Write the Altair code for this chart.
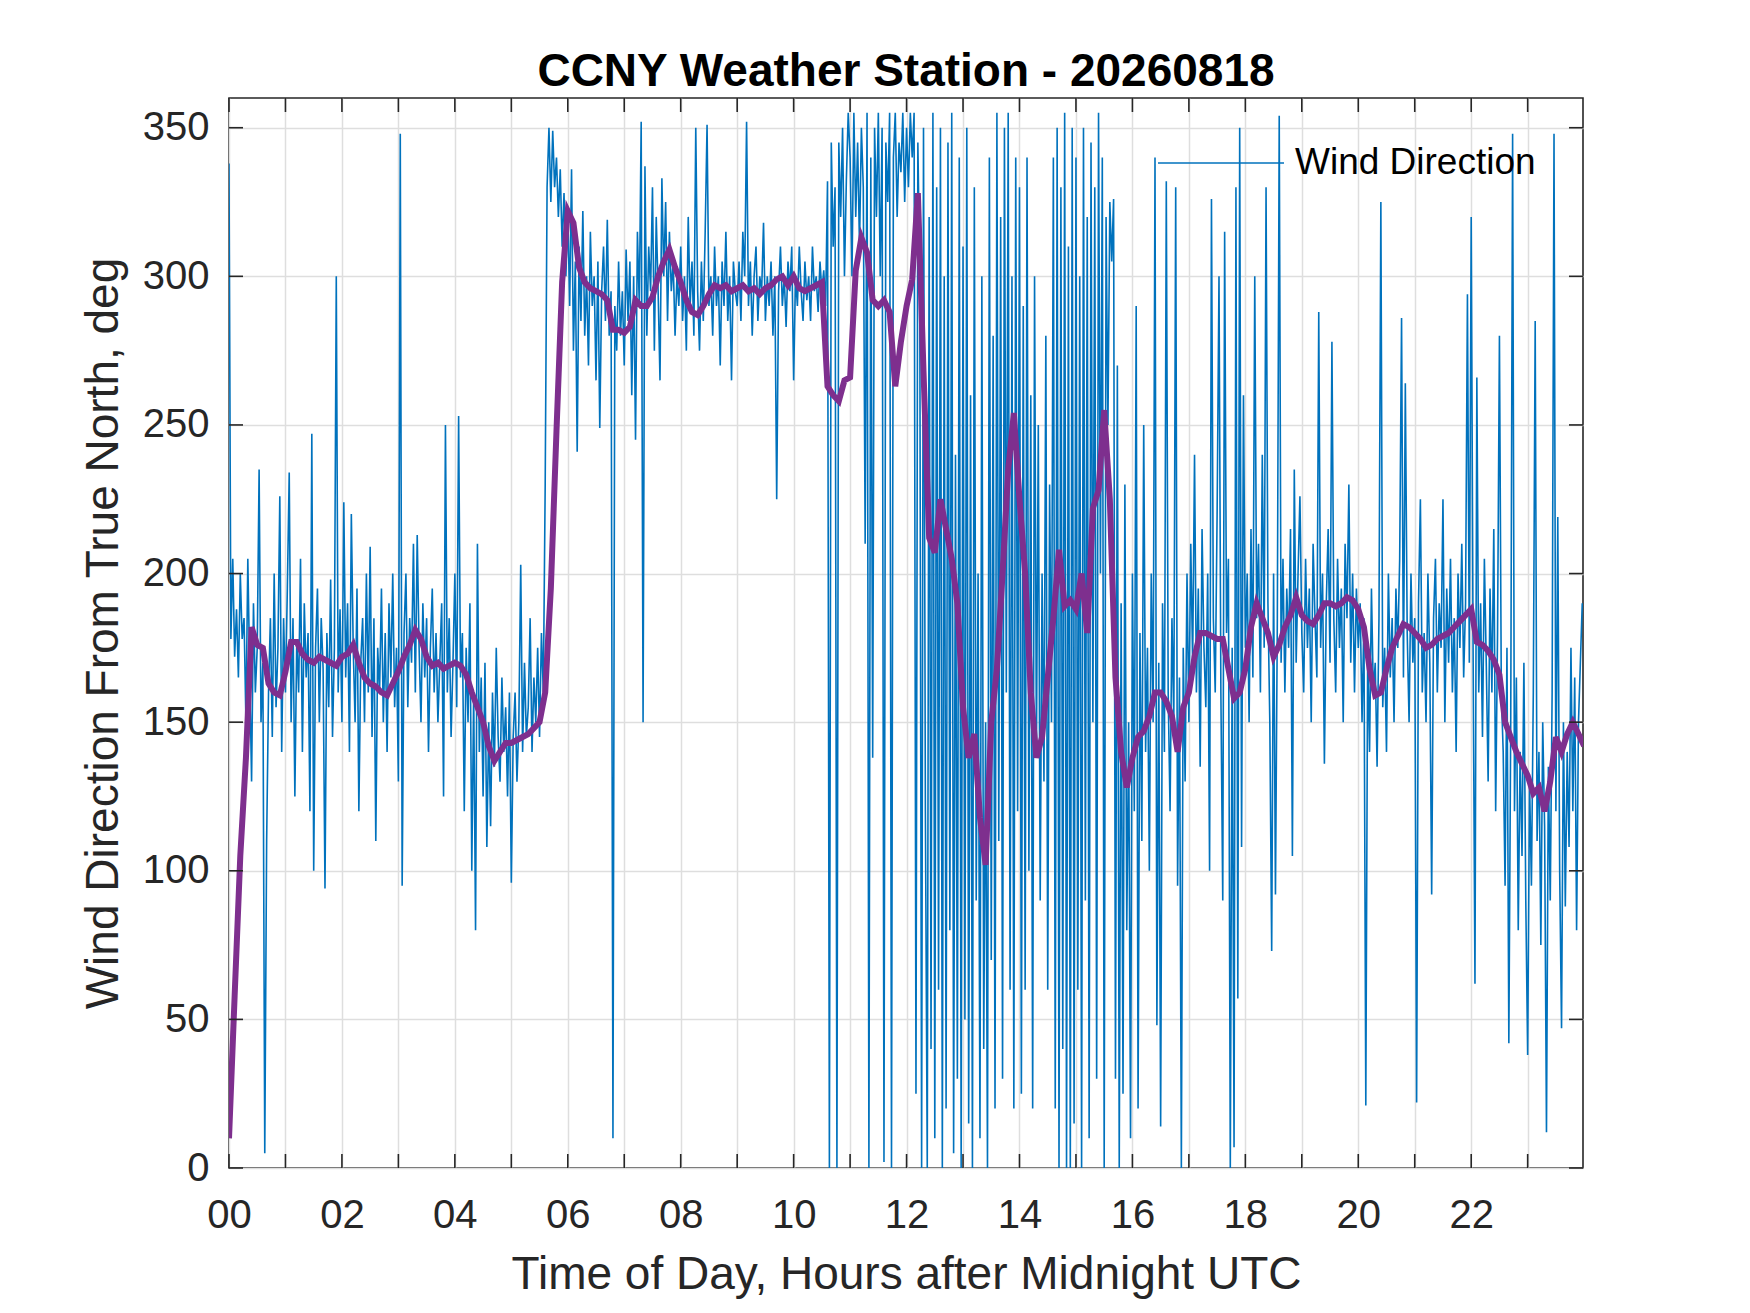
import altair as alt
import numpy as np
import pandas as pd

TITLE = "CCNY Weather Station - 20260818"
X_TITLE = "Time of Day, Hours after Midnight UTC"
Y_TITLE = "Wind Direction From True North, deg"
SERIES_NAME = "Wind Direction"

# raw wind direction (deg), one reading every 2 minutes, 30 per hour
wind_h00 = [338, 178, 205, 172, 188, 165, 200, 178, 185, 150, 205, 167, 130, 190, 160,
            175, 235, 150, 170, 5, 110, 160, 185, 145, 200, 155, 175, 226, 140, 185]
wind_h01 = [160, 195, 234, 150, 185, 125, 178, 160, 205, 140, 190, 165, 180, 120, 247,
            100, 175, 195, 150, 185, 168, 94, 180, 155, 198, 145, 175, 300, 160, 188]
wind_h02 = [150, 224, 165, 190, 140, 220, 175, 150, 195, 120, 170, 185, 150, 200, 160,
            209, 145, 185, 110, 175, 160, 195, 150, 180, 140, 190, 165, 200, 155, 175]
wind_h03 = [130, 348, 95, 180, 200, 155, 185, 170, 210, 160, 213, 175, 150, 190, 165,
            185, 140, 175, 195, 160, 180, 150, 170, 190, 125, 250, 160, 185, 145, 170]
wind_h04 = [200, 155, 253, 165, 180, 120, 175, 150, 190, 100, 160, 80, 210, 140, 165,
            125, 170, 108, 150, 115, 160, 135, 175, 145, 130, 165, 140, 155, 125, 160]
wind_h05 = [96, 145, 160, 130, 150, 203, 140, 170, 145, 155, 185, 140, 165, 150, 175,
            145, 180, 160, 230, 330, 350, 325, 349, 330, 340, 320, 336, 310, 328, 300]
wind_h06 = [322, 290, 336, 275, 305, 241, 310, 285, 322, 280, 300, 270, 315, 290, 300,
            265, 305, 249, 295, 310, 285, 319, 280, 295, 10, 290, 275, 305, 280, 295]
wind_h07 = [270, 309, 285, 305, 260, 300, 245, 315, 290, 352, 150, 337, 280, 310, 295,
            330, 275, 320, 295, 265, 333, 300, 325, 285, 315, 295, 305, 280, 300, 290]
wind_h08 = [310, 285, 300, 275, 320, 290, 305, 280, 350, 295, 275, 305, 285, 315, 351,
            290, 300, 280, 310, 290, 300, 270, 305, 290, 315, 285, 300, 265, 305, 295]
wind_h09 = [290, 305, 285, 315, 300, 352, 290, 305, 280, 300, 310, 285, 300, 295, 318,
            285, 300, 290, 305, 280, 300, 225, 295, 310, 290, 300, 283, 305, 295, 310]
wind_h10 = [265, 300, 290, 310, 295, 285, 305, 292, 300, 285, 310, 295, 300, 288, 305,
            295, 302, 290, 332, 0, 345, 310, 330, 0, 345, 320, 350, 300, 332, 355]
wind_h11 = [340, 300, 355, 320, 345, 310, 350, 330, 210, 355, 0, 340, 138, 350, 320,
            355, 300, 350, 2, 345, 325, 355, 0, 340, 355, 320, 345, 335, 355, 325]
wind_h12 = [350, 330, 355, 340, 355, 25, 345, 300, 0, 350, 120, 0, 320, 40, 355,
            10, 330, 60, 350, 0, 300, 20, 345, 80, 355, 5, 240, 30, 340, 0]
wind_h13 = [310, 50, 350, 15, 260, 0, 330, 90, 200, 10, 300, 40, 150, 0, 340,
            70, 280, 20, 355, 110, 320, 30, 350, 160, 355, 60, 300, 20, 340, 120]
wind_h14 = [330, 25, 290, 60, 340, 100, 260, 20, 300, 140, 250, 90, 200, 130, 280,
            60, 230, 150, 340, 20, 350, 0, 330, 40, 355, 0, 310, 0, 350, 15]
wind_h15 = [340, 60, 300, 0, 350, 90, 320, 10, 345, 150, 330, 30, 355, 200, 340,
            0, 320, 250, 325, 305, 326, 30, 270, 0, 190, 25, 230, 80, 150, 10]
wind_h16 = [200, 120, 290, 20, 180, 110, 250, 140, 175, 100, 200, 150, 340, 48, 170,
            14, 190, 140, 332, 160, 120, 185, 150, 330, 95, 165, 0, 175, 130, 200]
wind_h17 = [150, 210, 170, 240, 160, 195, 135, 215, 175, 155, 200, 100, 326, 185, 160,
            220, 300, 160, 90, 315, 180, 205, 0, 175, 7, 330, 57, 350, 108, 260]
wind_h18 = [175, 200, 150, 215, 165, 300, 185, 210, 160, 240, 175, 330, 190, 150, 73,
            200, 92, 185, 354, 170, 205, 160, 195, 175, 215, 105, 235, 170, 200, 226]
wind_h19 = [180, 160, 205, 175, 195, 150, 210, 185, 165, 288, 175, 200, 136, 190, 215,
            170, 278, 185, 160, 205, 175, 195, 150, 210, 185, 230, 170, 200, 160, 195]
wind_h20 = [175, 190, 150, 185, 21, 175, 140, 195, 160, 170, 135, 185, 325, 155, 175,
            140, 200, 165, 185, 150, 195, 175, 205, 286, 165, 264, 180, 150, 200, 170]
wind_h21 = [185, 22, 190, 225, 160, 180, 150, 200, 170, 92, 185, 205, 160, 190, 175,
            225, 150, 195, 170, 205, 160, 185, 140, 200, 175, 210, 165, 190, 294, 170]
wind_h22 = [320, 175, 62, 266, 160, 190, 145, 205, 170, 130, 195, 160, 215, 120, 180,
            280, 160, 140, 95, 175, 42, 150, 348, 120, 165, 80, 140, 105, 170, 90]
wind_h23 = [38, 130, 95, 160, 285, 110, 140, 75, 150, 115, 12, 135, 90, 160, 348,
            120, 219, 100, 47, 150, 88, 140, 108, 175, 120, 165, 80, 150, 170, 190]

# running mean (deg), one value every 6 minutes, 10 per hour
avg_h00_05 = [10, 58, 105, 138, 182, 176, 175, 163, 160, 159,
              167, 177, 177, 173, 171, 170, 172, 171, 170, 169,
              172, 173, 176, 170, 165, 163, 162, 160, 159, 163,
              167, 172, 176, 181, 178, 172, 169, 170, 168, 169,
              170, 169, 166, 160, 155, 150, 142, 137, 140, 143,
              143, 144, 145, 146, 148, 150, 160, 195, 248, 298]
avg_h06_11 = [322, 318, 303, 298, 296, 295, 294, 292, 282, 282,
              281, 283, 292, 290, 290, 293, 300, 305, 309, 303,
              298, 292, 288, 287, 290, 294, 297, 296, 297, 295,
              296, 297, 295, 296, 294, 296, 297, 299, 300, 297,
              300, 296, 295, 296, 297, 298, 263, 260, 258, 265,
              266, 302, 313, 308, 292, 290, 292, 288, 263, 278]
avg_h12_17 = [290, 299, 328, 268, 212, 207, 225, 215, 205, 190,
              155, 138, 146, 118, 102, 150, 168, 200, 235, 254,
              225, 200, 160, 138, 145, 165, 185, 208, 189, 191,
              188, 200, 180, 222, 228, 255, 225, 165, 140, 128,
              138, 145, 147, 152, 160, 160, 157, 152, 140, 155,
              160, 172, 180, 180, 179, 178, 178, 168, 158, 160]
avg_h18_24 = [168, 182, 190, 185, 180, 172, 176, 182, 186, 192,
              186, 184, 183, 186, 190, 190, 189, 190, 192, 191,
              188, 182, 168, 159, 160, 168, 175, 179, 183, 182,
              180, 178, 175, 176, 178, 179, 180, 182, 184, 186,
              188, 177, 176, 174, 171, 166, 150, 145, 140, 136,
              132, 126, 128, 120, 130, 145, 140, 146, 150, 146,
              142]

hour_ticks = list(range(0, 24))
deg_ticks = [0, 50, 100, 150, 200, 250, 300, 350]

FONT = "Liberation Sans"
BLUE = "#0072BD"
PURPLE = "#7E2F8E"
AXIS = "#262626"
GRID = "#dedede"
PLOT_W = 1354
PLOT_H = 1070
TICK_LEN = 14

wind = (wind_h00 + wind_h01 + wind_h02 + wind_h03 + wind_h04 + wind_h05 + wind_h06 + wind_h07
        + wind_h08 + wind_h09 + wind_h10 + wind_h11 + wind_h12 + wind_h13 + wind_h14 + wind_h15
        + wind_h16 + wind_h17 + wind_h18 + wind_h19 + wind_h20 + wind_h21 + wind_h22 + wind_h23)
avg = avg_h00_05 + avg_h06_11 + avg_h12_17 + avg_h18_24

raw_df = pd.DataFrame({"t": np.arange(len(wind)) / 30.0, "deg": wind, "series": SERIES_NAME})
avg_df = pd.DataFrame({"t": np.arange(len(avg)) / 10.0, "deg": avg})
xt_df = pd.DataFrame({"t": hour_ticks})
yt_df = pd.DataFrame({"deg": deg_ticks})

x_scale = alt.Scale(domain=[0, 23.98], nice=False, zero=False)
y_scale = alt.Scale(domain=[0, 360], nice=False)

x_axis = alt.Axis(
    values=hour_ticks, title=X_TITLE, labelFlush=False, labelOverlap=False,
    labelExpr="datum.value % 2 == 0 ? format(datum.value, '02d') : ''",
    labelBaseline="top", labelPadding=27,
    titleX=PLOT_W / 2, titleY=106, titleBaseline="middle", titleAlign="center",
)
y_axis = alt.Axis(
    values=deg_ticks, title=Y_TITLE, labelFlush=False, labelPadding=20,
    titleX=-126, titleY=PLOT_H / 2, titleAngle=270, titleBaseline="middle",
    titleAlign="center",
)

raw_line = alt.Chart(raw_df).mark_line(strokeWidth=1.6, clip=True).encode(
    x=alt.X("t:Q", scale=x_scale, axis=x_axis),
    y=alt.Y("deg:Q", scale=y_scale, axis=y_axis),
    color=alt.Color("series:N", scale=alt.Scale(domain=[SERIES_NAME], range=[BLUE]),
                    legend=alt.Legend(
                        orient="none", legendX=928, legendY=1, title=None,
                        symbolType="stroke", symbolSize=15876, symbolStrokeWidth=1.6,
                        labelFont=FONT, labelFontSize=37, labelColor="#000000",
                        labelOffset=10, labelLimit=500, padding=0,
                    )),
)

avg_line = alt.Chart(avg_df).mark_line(color=PURPLE, strokeWidth=6, clip=True).encode(
    x=alt.X("t:Q", scale=x_scale, axis=x_axis),
    y=alt.Y("deg:Q", scale=y_scale, axis=y_axis),
)

# MATLAB-style inward ticks on all four sides
tick_style = dict(color=AXIS, strokeWidth=1.6)
ticks_bottom = alt.Chart(xt_df).mark_rule(**tick_style).encode(
    x=alt.X("t:Q", scale=x_scale, axis=x_axis),
    y=alt.value(PLOT_H - TICK_LEN), y2=alt.value(PLOT_H),
)
ticks_top = alt.Chart(xt_df).mark_rule(**tick_style).encode(
    x=alt.X("t:Q", scale=x_scale, axis=x_axis),
    y=alt.value(0), y2=alt.value(TICK_LEN),
)
ticks_left = alt.Chart(yt_df).mark_rule(**tick_style).encode(
    y=alt.Y("deg:Q", scale=y_scale, axis=y_axis),
    x=alt.value(0), x2=alt.value(TICK_LEN),
)
ticks_right = alt.Chart(yt_df).mark_rule(**tick_style).encode(
    y=alt.Y("deg:Q", scale=y_scale, axis=y_axis),
    x=alt.value(PLOT_W - TICK_LEN), x2=alt.value(PLOT_W),
)

chart = alt.layer(
    raw_line, avg_line, ticks_bottom, ticks_top, ticks_left, ticks_right
).properties(
    width=PLOT_W,
    height=PLOT_H,
    autosize=alt.AutoSizeParams(type="none"),
    padding={"left": 221, "top": 90, "right": 100, "bottom": 135},
    title=alt.TitleParams(TITLE, font=FONT, fontSize=46, fontWeight="bold", color="#000000",
                          anchor="middle", frame="group", offset=1),
).configure_axis(
    labelFont=FONT, titleFont=FONT, labelFontSize=40, titleFontSize=46,
    labelColor=AXIS, titleColor=AXIS, titleFontWeight="normal",
    gridColor=GRID, gridWidth=1.5, domain=False, ticks=False, tickSize=0,
).configure_view(
    stroke=AXIS, strokeWidth=1.6,
)

chart.save("out.html", embed_options={"renderer": "svg", "actions": False})
